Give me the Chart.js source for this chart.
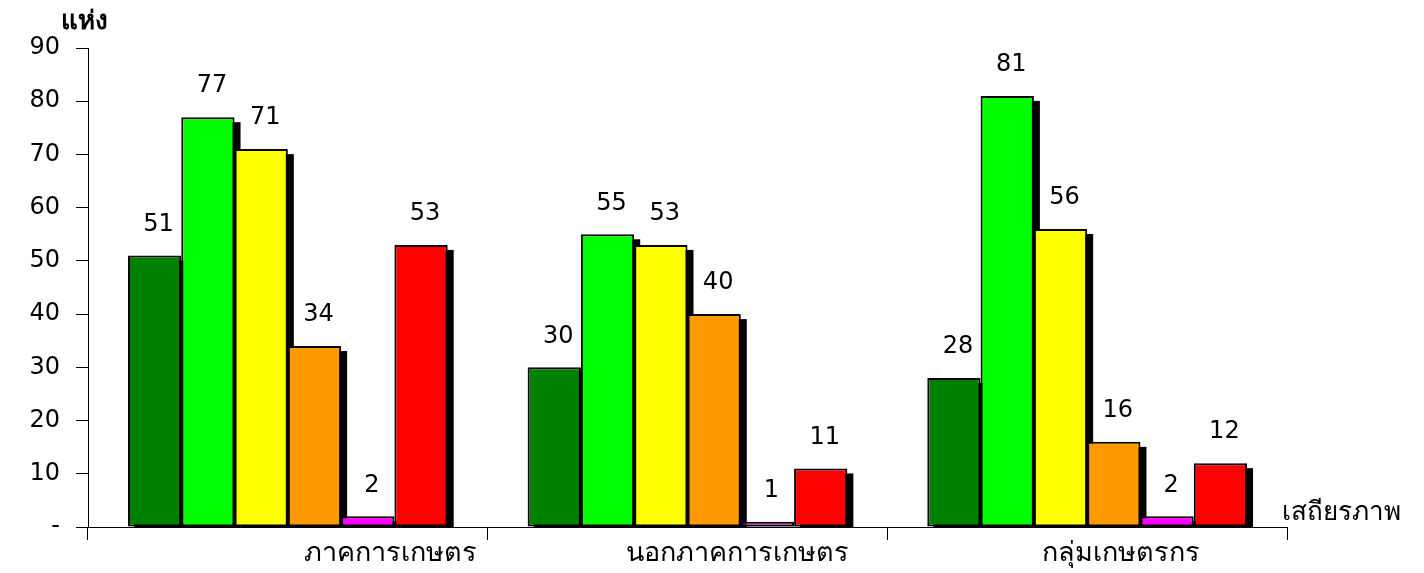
<!DOCTYPE html>
<html>
<head>
<meta charset="utf-8">
<script src="https://cdn.jsdelivr.net/npm/chart.js@4.4.1/dist/chart.umd.min.js"></script>
<style>
  html, body { margin: 0; padding: 0; background: #ffffff; }
  #wrap { width: 1424px; height: 573px; }
</style>
</head>
<body>
<div id="wrap"><canvas id="stabilityChart"></canvas></div>
<script>
const categories = ['ภาคการเกษตร', 'นอกภาคการเกษตร', 'กลุ่มเกษตรกร'];
const seriesNames = ['ระดับ 1', 'ระดับ 2', 'ระดับ 3', 'ระดับ 4', 'ระดับ 5', 'ระดับ 6'];
const seriesColors = ['#008000', '#00ff00', '#ffff00', '#ff9900', '#ff00ff', '#ff0000'];
const level1 = [51, 30, 28];
const level2 = [77, 55, 81];
const level3 = [71, 53, 56];
const level4 = [34, 40, 16];
const level5 = [2, 1, 2];
const level6 = [53, 11, 12];
const yTicks = [0, 10, 20, 30, 40, 50, 60, 70, 80, 90];
const unitLabel = 'แห่ง';
const axisLabel = 'เสถียรภาพ';

const seriesValues = [level1, level2, level3, level4, level5, level6];
const FONT = "'DejaVu Sans', Tahoma, sans-serif";
const labelShift = [103, 50, 34];

// black drop shadows to the lower right of every bar, drawn under all bars
const barShadow = {
  id: 'barShadow',
  beforeDatasetsDraw(chart) {
    const ctx = chart.ctx;
    const area = chart.chartArea;
    ctx.save();
    ctx.beginPath();
    ctx.rect(area.left, area.top, area.right - area.left + 20, area.bottom - area.top);
    ctx.clip();
    ctx.fillStyle = '#000000';
    chart.data.datasets.forEach((ds, i) => {
      chart.getDatasetMeta(i).data.forEach(bar => {
        const p = bar.getProps(['x', 'y', 'base', 'width']);
        ctx.fillRect(p.x - p.width / 2 + 6, p.y + 5, p.width, p.base - p.y);
      });
    });
    ctx.restore();
  }
};

const extraText = {
  id: 'extraText',
  afterDraw(chart) {
    const ctx = chart.ctx;
    const area = chart.chartArea;
    const xScale = chart.scales.x;
    ctx.save();
    ctx.fillStyle = '#000000';
    ctx.font = '24px ' + FONT;
    ctx.textAlign = 'center';
    ctx.textBaseline = 'middle';

    // value labels above each bar
    chart.data.datasets.forEach((ds, i) => {
      chart.getDatasetMeta(i).data.forEach((bar, j) => {
        ctx.fillText(String(ds.data[j]), bar.x + 4, bar.y - 31);
      });
    });

    // category labels
    ctx.font = '27px ' + FONT;
    categories.forEach((c, j) => {
      ctx.fillText(c, xScale.getPixelForValue(j) + labelShift[j], area.bottom + 27);
    });

    ctx.font = 'bold 26px ' + FONT;
    ctx.textAlign = 'left';
    ctx.fillText(unitLabel, 61, 22);
    ctx.font = '26px ' + FONT;
    ctx.fillText(axisLabel, area.right - 5, area.bottom - 14);
    ctx.restore();
  }
};

const ctx = document.getElementById('stabilityChart').getContext('2d');

new Chart(ctx, {
  type: 'bar',
  data: {
    labels: categories,
    datasets: seriesNames.map((name, i) => ({
      label: name,
      data: seriesValues[i],
      backgroundColor: seriesColors[i],
      borderColor: '#000000',
      borderWidth: 2,
      borderSkipped: false,
      categoryPercentage: 0.8,
      barPercentage: 1.0
    }))
  },
  options: {
    responsive: true,
    maintainAspectRatio: false,
    animation: false,
    layout: {
      padding: { top: 48, right: 137, bottom: 0, left: 0 }
    },
    plugins: {
      legend: { display: false },
      tooltip: { enabled: false }
    },
    scales: {
      x: {
        grid: {
          display: true,
          drawOnChartArea: false,
          drawTicks: true,
          tickLength: 13,
          color: '#000000',
          offset: true
        },
        border: { display: true, color: '#000000', width: 1 },
        ticks: { display: false },
        afterFit(scale) { scale.height = 46; }
      },
      y: {
        min: 0,
        max: 90,
        afterBuildTicks(scale) {
          scale.ticks = yTicks.map(v => ({ value: v }));
        },
        grid: {
          display: true,
          drawOnChartArea: false,
          drawTicks: true,
          tickLength: 12,
          color: '#000000'
        },
        border: { display: true, color: '#000000', width: 1 },
        ticks: {
          color: '#000000',
          padding: 16,
          font: { family: FONT, size: 24 },
          callback: v => (v === 0 ? '-' : String(v))
        },
        afterFit(scale) { scale.width = 88; }
      }
    }
  },
  plugins: [barShadow, extraText]
});
</script>
</body>
</html>
